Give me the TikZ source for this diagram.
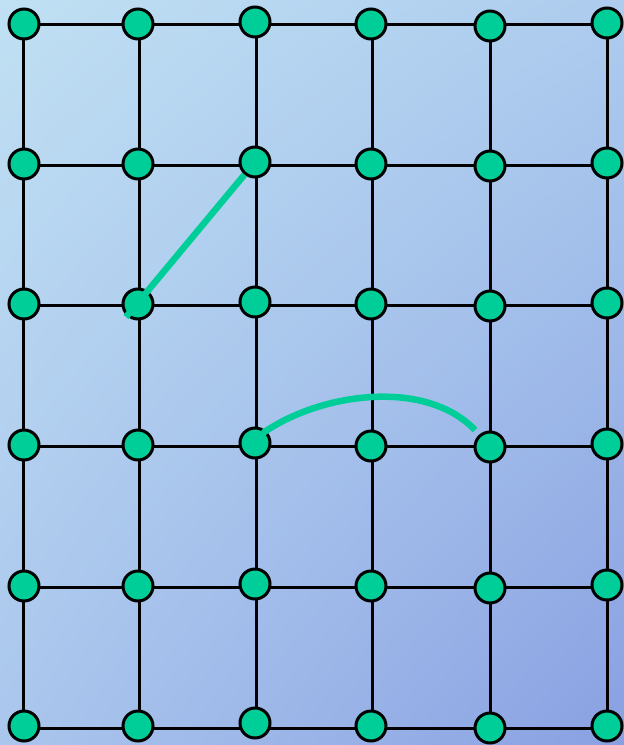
\documentclass[tikz,border=0pt]{standalone}
\usetikzlibrary{calc,shadings}
\definecolor{nodegreen}{RGB}{0,206,152}
\definecolor{bgUL}{RGB}{192,224,243}
\definecolor{bgUR}{RGB}{173,204,238}
\definecolor{bgLL}{RGB}{170,198,237}
\definecolor{bgLR}{RGB}{137,160,226}
\begin{document}
\begin{tikzpicture}[x=1pt,y=-1pt,
  vertex/.style={circle, draw=black, line width=3pt, fill=nodegreen, minimum size=30pt, inner sep=0pt},
  gridline/.style={draw=black, line width=3pt},
  link/.style={draw=nodegreen, line width=6.5pt}]
\useasboundingbox (0,0) rectangle (624,745);
\shade[upper left=bgUL, upper right=bgUR, lower left=bgLL, lower right=bgLR] (0,0) rectangle (624,745);
% grid line ends
\foreach \i/\v in {0/23,1/139,2/256,3/372,4/490,5/607} {
  \coordinate (top\i) at (\v,24);
  \coordinate (bot\i) at (\v,728);
}
\foreach \i/\v in {0/24,1/165,2/305,3/446,4/587,5/728} {
  \coordinate (lft\i) at (23,\v);
  \coordinate (rgt\i) at (607,\v);
}
\foreach \i in {0,...,5} {
  \draw[gridline] (top\i) -- (bot\i);
  \draw[gridline] (lft\i) -- (rgt\i);
}
\foreach \c/\r/\x/\y in {
 0/0/24/24, 1/0/138/24, 2/0/255/22, 3/0/371/24, 4/0/490/26, 5/0/607/23,
 0/1/24/164, 1/1/138/164, 2/1/255/162, 3/1/371/164, 4/1/490/166, 5/1/607/163,
 0/2/24/304, 1/2/138/304, 2/2/255/302, 3/2/371/304, 4/2/490/306, 5/2/607/303,
 0/3/24/445, 1/3/138/445, 2/3/255/443, 3/3/371/446, 4/3/490/447, 5/3/607/444,
 0/4/24/586, 1/4/138/586, 2/4/255/584, 3/4/371/586, 4/4/490/588, 5/4/607/585,
 0/5/24/726, 1/5/138/726, 2/5/255/723, 3/5/371/726, 4/5/490/728, 5/5/607/726}
  \node[vertex] (n\c\r) at (\x,\y) {};
\coordinate (lineS) at (126,317);
\draw[link] (lineS) -- (n21);
\coordinate (arcS) at (263,433);
\coordinate (arcE) at (475,430);
\draw[link] (arcS) .. controls (320,393) and (425,378) .. (arcE);
\end{tikzpicture}
\end{document}
